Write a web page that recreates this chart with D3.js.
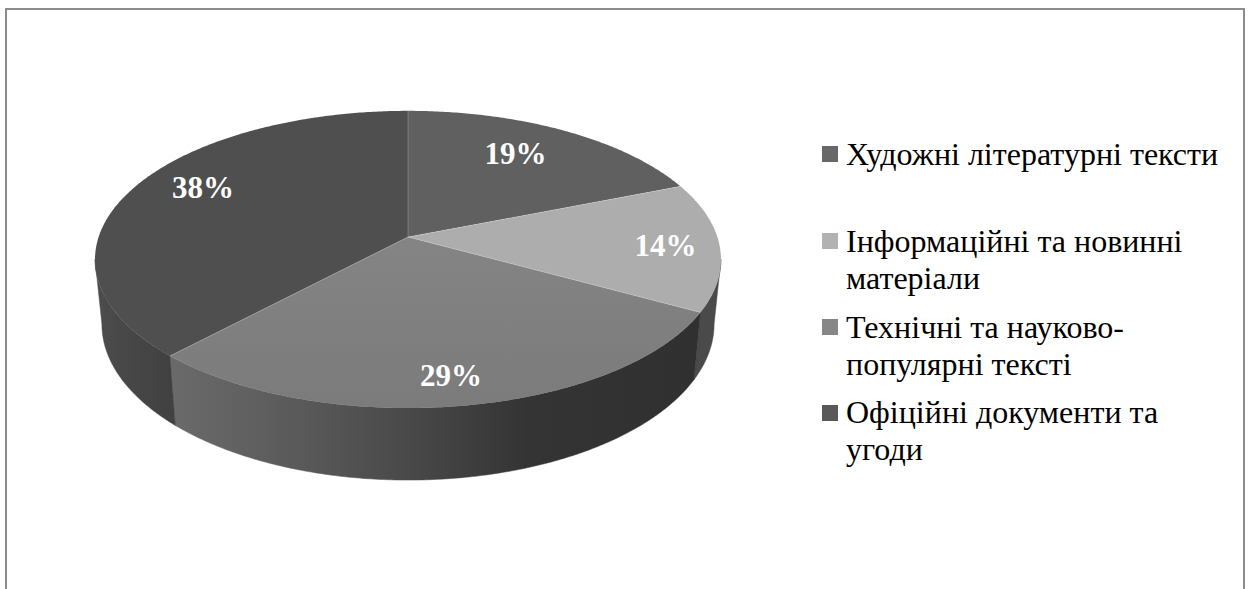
<!DOCTYPE html>
<html><head><meta charset="utf-8">
<script src="https://cdn.jsdelivr.net/npm/d3@7/dist/d3.min.js"></script>
<style>html,body{margin:0;padding:0;background:#fff;overflow:hidden}svg{display:block}</style>
</head><body><svg id="c" width="1248" height="589"></svg>
<script>
const categories = ["Художні літературні тексти","Інформаційні та новинні матеріали","Технічні та науково-популярні тексті","Офіційні документи та угоди"];
const values = [19,14,29,38];
const legendLines = [["Художні літературні тексти"],["Інформаційні та новинні","матеріали"],["Технічні та науково-","популярні тексті"],["Офіційні документи та","угоди"]];

const topColors = ["#606060","#adadad","url(#top29)","#4f4f4f"];
const legendColors = ["#686868","#b2b2b2","#878787","#595959"];
const wallColors = ["#4a4a4a","#4a4a4a","url(#wall29)","url(#wall38)"];
const labelAnchors = [[515.5,164],[665.5,256],[451,386],[203,198]];
const legendY = [[146,165],[233,252],[319,338],[405,423]];
const lineGap = 37;

const svg = d3.select("#c");
const defs = svg.append("defs");
function grad(id,x1,y1,x2,y2,stops){
  const g = defs.append("linearGradient").attr("id",id).attr("gradientUnits","userSpaceOnUse")
    .attr("x1",x1).attr("y1",y1).attr("x2",x2).attr("y2",y2);
  stops.forEach(s=>g.append("stop").attr("offset",s[0]).attr("stop-color",s[1]));
}
grad("top29",0,240,0,410,[[0,"#848484"],[1,"#7b7b7b"]]);
grad("wall29",172,0,695,0,[[0,"#6a6a6a"],[.25,"#595959"],[.45,"#494949"],[.68,"#343434"],[1,"#303030"]]);
grad("wall38",96,0,176,0,[[0,"#4c4c4c"],[1,"#404040"]]);

// frame (open at the bottom edge of the crop)
svg.append("path").attr("d",d3.line()([[6,589],[6,9],[1244,9],[1244,589]]))
  .attr("fill","none").attr("stroke","#8c8c8c").attr("stroke-width",2);

// perspective projection of the pie disc
const cx = 408, topApexY = 237, botApexY = 300.5;
const k = 0.151, sx = 309.4, sy = 145.2, botScaleX = 0.978, botScaleY = 1.05;
function proj(theta, r){
  const u = r*Math.sin(theta), v = -r*Math.cos(theta), w = 1-k*v;
  return [sx*u/w, sy*v/w];
}
const topPt = (t,r=1)=>{const p=proj(t,r);return [cx+p[0],topApexY+p[1]];};
const botPt = t=>{const p=proj(t,1);return [cx+p[0]*botScaleX,botApexY+p[1]*botScaleY];};
function samples(a,b){const n=Math.max(2,Math.ceil(Math.abs(b-a)/0.01));return d3.range(n+1).map(i=>a+(b-a)*i/n);}

const arcs = d3.pie().sort(null).value(d=>d)(values);
const line = d3.line().curve(d3.curveLinear);
const tan = Math.PI/2+Math.asin(k);   // silhouette angles
const visA = tan, visB = 2*Math.PI-tan;

const walls = svg.append("g");
arcs.forEach((a,i)=>{
  const s = Math.max(a.startAngle,visA), e = Math.min(a.endAngle,visB);
  if(e<=s) return;
  const ts = samples(s,e);
  const pts = ts.map(t=>topPt(t)).concat(ts.slice().reverse().map(botPt));
  walls.append("path").attr("d",line(pts)+"Z").attr("fill",wallColors[i])
    .attr("stroke",wallColors[i]).attr("stroke-width",.5);
});

const tops = svg.append("g");
arcs.forEach((a,i)=>{
  const pts = [[cx,topApexY]].concat(samples(a.startAngle,a.endAngle).map(t=>topPt(t)));
  tops.append("path").attr("d",line(pts)+"Z").attr("fill",topColors[i]);
});
// faint light seams along the slice edges only
svg.append("g").selectAll("path").data(arcs).join("path")
  .attr("d",a=>line([[cx,topApexY],topPt(a.startAngle)]))
  .attr("stroke","#ffffff").attr("stroke-opacity",.22).attr("stroke-width",1).attr("fill","none");

svg.append("g").selectAll("text").data(values).join("text")
  .attr("x",(d,i)=>labelAnchors[i][0]).attr("y",(d,i)=>labelAnchors[i][1])
  .attr("text-anchor","middle").attr("fill","#fff")
  .attr("font-family","'Liberation Serif',serif").attr("font-weight","bold").attr("font-size",31)
  .text(d=>d+"%");

const lg = svg.append("g").selectAll("g").data(categories).join("g");
lg.append("rect").attr("x",822).attr("y",(d,i)=>legendY[i][0]).attr("width",16).attr("height",16)
  .attr("fill",(d,i)=>legendColors[i]);
lg.each(function(d,i){
  d3.select(this).selectAll("text").data(legendLines[i]).join("text")
    .attr("x",846).attr("y",(t,j)=>legendY[i][1]+j*lineGap)
    .attr("font-family","'Liberation Serif',serif").attr("font-size",32).attr("fill","#000")
    .text(t=>t);
});
</script></body></html>
